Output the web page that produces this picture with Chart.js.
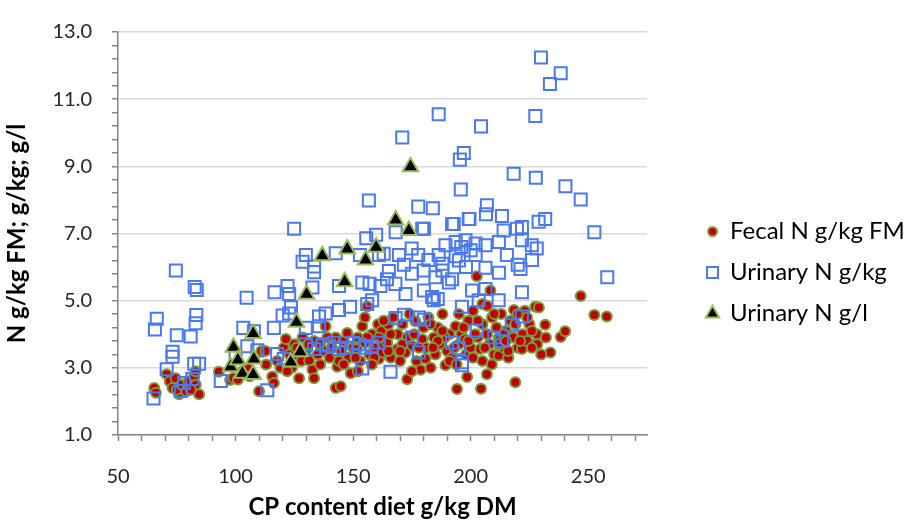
<!DOCTYPE html>
<html>
<head>
<meta charset="utf-8">
<script src="https://cdn.jsdelivr.net/npm/chart.js@4.4.1/dist/chart.umd.min.js"></script>
<style>
  body { margin: 0; background: #fff; }
  #wrap { width: 906px; height: 523px; }
</style>
</head>
<body>
<div id="wrap"><canvas id="nChart" width="906" height="523"></canvas></div>
<script>
// Series labels
const seriesNames = ['Fecal N g/kg FM', 'Urinary N g/kg', 'Urinary N g/l'];

// Fecal N g/kg FM  [CP g/kg DM, N]
const fecalPoints = [
  [65.4,2.40],[66.1,2.26],[70.7,2.81],[72,2.60],[74.5,2.69],[73.2,2.40],[76,2.21],[75,2.35],[77,2.50],[79,2.30],
  [80,2.60],[82.4,2.75],[83.1,2.50],[84.5,2.21],[81,2.35],[83,2.90],[92.9,2.88],[97.7,2.64],[99,2.70],[101,2.65],
  [103,2.90],[105,3.00],[106,2.75],[110,2.30],[111,3.50],[112.7,3.50],[113,3.10],[115.6,2.74],[116.3,2.55],[117.7,3.20],
  [119.1,3.00],[120.5,3.60],[121.4,3.86],[123,3.40],[124,3.00],[125,3.70],[126,3.30],[127,2.69],[128,3.20],[128.5,3.90],
  [130,3.50],[131.3,3.22],[132.7,2.94],[133.4,2.69],[133.4,3.80],[135,3.40],[136,3.70],[138,3.50],[138.3,4.24],[140,3.30],
  [141,3.60],[142.6,3.90],[143.3,3.03],[142.6,2.40],[144.7,2.45],[145,3.50],[146,3.80],[147.5,4.04],[148,3.30],[149,2.84],
  [150,3.60],[151.7,3.56],[152,3.90],[153,3.20],[153.9,4.24],[155,3.75],[155,4.50],[156,4.83],[157,3.40],[158,4.00],
  [159,3.60],[160.6,4.30],[161,3.27],[162,4.10],[162.4,3.46],[163,3.70],[164.5,3.75],[164.9,4.28],[166,3.30],[167,4.50],
  [168.8,3.56],[169,4.00],[170,3.20],[171,4.30],[172.3,3.46],[173,2.66],[173,3.90],[174,4.60],[175.1,3.66],[176.5,4.39],
  [177,3.20],[178.7,2.94],[179.4,3.85],[180,4.20],[180.8,3.27],[181,3.60],[182,4.50],[183,3.00],[184.3,3.90],[185,3.40],
  [186,4.20],[187,3.70],[188,4.60],[189.3,3.08],[190,3.50],[191,4.00],[192,3.30],[193.6,4.24],[194.2,2.37],[195,3.70],
  [195,4.60],[196,4.00],[197.5,3.85],[198,3.40],[198.5,2.73],[199,4.40],[200,3.60],[201,4.70],[202.6,5.73],[203,3.90],
  [204.1,3.56],[204.4,2.38],[205,4.30],[205,3.20],[206.9,2.81],[207,4.00],[208.4,5.30],[208,3.70],[209,4.50],[210,3.40],
  [211,4.20],[211.9,3.37],[212,3.90],[213,4.60],[214,3.60],[215,4.10],[216,3.30],[217,4.40],[218.2,3.90],[218.4,4.72],
  [219,2.57],[220,3.60],[221.8,3.56],[222,4.00],[223,4.70],[224,3.80],[225,4.30],[227.5,4.82],[227.5,3.70],[228.2,4.00],
  [228.3,3.70],[229,4.80],[231.7,4.28],[233.9,3.46],[230,3.40],[238.3,3.92],[240.2,4.09],[246.8,5.14],[252.6,4.57],[257.9,4.53],
  [144,3.20],[151,3.30],[156,3.90],[159,3.30],[166,4.00],[171,3.70],[176,4.00],[183,4.30],[189,3.90],[193,3.60],
  [197,4.20],[201,3.30],[206,3.60],[210,4.60],[214,4.00],[219,4.30],[221,3.80],[226,3.60],[205,4.90],[207,4.85],
  [161,3.90],[165,3.50],[178,3.60],[186,3.80],[191,3.20],[199,3.80],[202,4.00],[212,3.70],[216,3.50],[224,4.50],
  [122,2.90],[126,3.60],[131,3.70],[136,3.10],[139,3.90],[146,3.10],[152,2.90],[158,3.10],[163,4.40],[170,3.50],
  [175,2.90],[184,3.60],[188,4.10],[194,3.10],[203,4.40],[209,3.10],[215,3.80],[220,4.60],[226,4.10],[232,3.90]
];

// Urinary N g/kg
const urinaryKgPoints = [
  [65.1,2.09],[65.7,4.14],[66.5,4.46],[70.7,2.96],[73.2,3.48],[73.2,3.33],[74.6,5.90],[75,3.97],[76.7,2.31],[78.1,2.55],
  [80.9,3.93],[81.6,2.67],[82.4,3.12],[84.5,3.12],[82.6,5.41],[83.5,5.32],[83.3,4.57],[83,4.33],[93.7,2.61],[100,3.32],
  [103.3,4.19],[104.7,5.09],[105,3.64],[107.8,4.09],[109.3,3.52],[113.5,2.33],[116.3,4.19],[116.6,5.25],[117.7,3.41],[120.5,3.26],
  [120,4.56],[123.6,4.80],[122.1,5.44],[122.8,5.20],[124.9,7.14],[128.5,6.16],[129.9,6.36],[133.4,6.02],[133.4,5.85],[142.6,6.41],
  [152.9,6.36],[155.6,6.86],[159.8,6.96],[161,6.36],[163,6.40],[168.1,7.04],[169.5,6.36],[174.9,6.55],[177.7,6.36],[179.4,7.14],
  [182,6.21],[171.6,6.07],[165.2,5.88],[153.9,5.54],[144,5.44],[132.7,5.39],[157,5.50],[161.6,5.44],[164.4,5.64],[168,5.50],
  [172.3,5.20],[180.1,5.30],[158.1,5.01],[156,4.90],[148.7,4.82],[144,4.72],[138.3,4.62],[135.5,4.53],[135.5,4.24],[129.9,4.19],
  [122.8,4.62],[133.4,3.56],[137,3.70],[139.8,3.66],[144,3.56],[152.5,3.70],[155,3.60],[161,3.75],[168.1,4.48],[171.6,4.58],
  [175.1,3.90],[178,3.46],[153.9,2.98],[165.9,2.88],[156.7,7.98],[177.7,7.80],[170.9,9.86],[130,3.70],[142,3.75],[147,3.60],
  [150,3.75],[158,3.65],[180.1,7.14],[192.1,7.28],[199.2,7.43],[214,7.09],[219.7,7.14],[221.8,7.19],[221.8,6.80],[226,6.65],
  [228.1,6.55],[189.3,6.65],[193.6,6.75],[197.8,6.80],[202.1,6.70],[206.3,6.65],[212,6.75],[186.4,6.36],[193.6,6.32],[202.1,6.36],
  [215.4,6.36],[220,6.07],[226.1,6.21],[206.3,5.98],[212,5.83],[221.2,5.94],[192.1,5.64],[190.7,5.54],[206.3,5.35],[221.8,5.25],
  [200.6,5.30],[183.6,5.11],[184.3,5.01],[186,5.05],[196.3,4.82],[203.4,5.01],[211.9,5.01],[202.6,4.11],[213.3,3.80],[217.5,4.28],
  [221.8,4.53],[180.1,4.43],[178,4.50],[192.1,3.75],[195,3.58],[196.3,3.17],[196.3,3.08],[188,6.10],[195,6.20],[198,6.00],
  [200,6.50],[196,6.60],[175,5.80],[180,5.90],[185,5.70],[188,5.90],[229.9,12.24],[238.3,11.77],[233.7,11.45],[186.4,10.55],
  [227.5,10.50],[204.4,10.19],[197.1,9.40],[195.4,9.20],[218.3,8.78],[227.7,8.66],[240.3,8.41],[195.8,8.31],[246.8,8.01],[183.9,7.75],
  [206.9,7.84],[206.5,7.57],[213.3,7.52],[192.8,7.28],[199.5,7.43],[228.9,7.35],[231.7,7.43],[252.6,7.04],[258.1,5.70],[210,3.90]
];

// Urinary N g/l
const urinaryLPoints = [
  [97.9,3.03],[99.1,3.61],[101,3.23],[102.9,2.84],[107.5,2.80],[107.8,3.26],[107.5,4.02],[123.5,3.17],[125.9,4.36],[127.5,3.48],
  [130.2,5.19],[136.9,6.34],[146.4,5.56],[147.5,6.54],[155.3,6.21],[159.8,6.59],[168.1,7.40],[173.7,7.09],[174.4,8.99]
];

const toXY = pts => pts.map(p => ({ x: p[0], y: p[1] }));

const fontFamily = 'Lato, "Open Sans", sans-serif';
const tickFont = { family: fontFamily, size: 20 };
const titleFont = { family: fontFamily, size: 24, weight: 'bold' };
const axisGray = '#868686';
const fecalFill = '#c00000';
const fecalEdge = '#7a9a3c';

// legend: longest label about 176px wide, legend box 216px, 43px gap after the plot
const mctx = document.createElement('canvas').getContext('2d');
mctx.font = '24px Lato';
const w24 = mctx.measureText(seriesNames[0]).width;
const legendSize = Math.round(24 * 176 / w24 * 2) / 2;
const legendPad = 41 - legendSize;
const legendBox = 11;
const legendWidth = 216;
const gapWidth = 43;

// small round legend marker (the built-in one scales with the box and gets too big)
const dotImg = document.createElement('canvas');
dotImg.width = 12; dotImg.height = 12;
const dctx = dotImg.getContext('2d');
dctx.beginPath();
dctx.arc(6, 6, 4.5, 0, Math.PI * 2);
dctx.fillStyle = fecalFill;
dctx.fill();
dctx.lineWidth = 2;
dctx.strokeStyle = fecalEdge;
dctx.stroke();

const ctx = document.getElementById('nChart').getContext('2d');
const chart = new Chart(ctx, {
  type: 'scatter',
  data: {
    datasets: [
      {
        label: seriesNames[0],
        data: toXY(fecalPoints),
        pointStyle: 'circle',
        pointRadius: 5,
        backgroundColor: fecalFill,
        borderColor: fecalEdge,
        borderWidth: 2,
        order: 3
      },
      {
        label: seriesNames[1],
        data: toXY(urinaryKgPoints),
        pointStyle: 'rect',
        pointRadius: 8.5,
        backgroundColor: 'rgba(0,0,0,0)',
        borderColor: '#4a78f2',
        borderWidth: 2,
        order: 2
      },
      {
        label: seriesNames[2],
        data: toXY(urinaryLPoints),
        pointStyle: 'triangle',
        pointRadius: 9,
        backgroundColor: '#000000',
        borderColor: '#9bbb59',
        borderWidth: 2,
        order: 1
      }
    ]
  },
  options: {
    responsive: false,
    animation: false,
    devicePixelRatio: 1,
    layout: { padding: { top: 22, right: 0, bottom: 0, left: 0 } },
    plugins: {
      tooltip: { enabled: false },
      legend: {
        position: 'right',
        maxWidth: legendWidth,
        labels: {
          usePointStyle: true,
          boxHeight: legendBox,
          boxWidth: legendBox,
          padding: legendPad,
          color: '#000',
          font: { family: fontFamily, size: legendSize },
          sort: (a, b) => a.datasetIndex - b.datasetIndex,
          generateLabels: c => {
            const items = Chart.defaults.plugins.legend.labels.generateLabels(c);
            items.forEach(it => { if (it.datasetIndex === 0) it.pointStyle = dotImg; });
            return items;
          }
        }
      }
    },
    scales: {
      x: {
        type: 'linear',
        min: 50,
        max: 275,
        afterFit: s => { s.height = 88; },
        border: { color: axisGray, width: 1.5 },
        grid: { drawOnChartArea: false, drawTicks: true, tickLength: 6, tickColor: axisGray, tickWidth: 1.5 },
        ticks: {
          stepSize: 10,
          includeBounds: false,
          autoSkip: false,
          maxRotation: 0,
          padding: 24,
          color: '#262626',
          font: tickFont,
          callback: v => (v % 50 === 0 ? String(v) : '')
        },
        title: { display: true, text: 'CP content diet g/kg DM', color: '#000', font: titleFont, padding: { top: 4, bottom: 1 } }
      },
      y: {
        type: 'linear',
        min: 1,
        max: 13,
        afterFit: s => { s.width = 118; },
        border: { color: axisGray, width: 1.5 },
        grid: {
          drawTicks: true,
          tickLength: 6,
          tickColor: axisGray,
          tickWidth: 1.5,
          lineWidth: 1.5,
          color: c => (c.index % 5 === 0 ? '#d9d9d9' : 'rgba(0,0,0,0)')
        },
        ticks: {
          stepSize: 0.4,
          autoSkip: false,
          padding: 20,
          color: '#262626',
          font: tickFont,
          callback: (v, i) => (i % 5 === 0 ? v.toFixed(1) : '')
        },
        title: { display: true, text: 'N g/kg FM; g/kg; g/l', color: '#000', font: titleFont, padding: { top: 3, bottom: 4 } }
      },
      gap: {
        type: 'linear',
        position: 'right',
        display: true,
        afterFit: s => { s.width = gapWidth; },
        border: { display: false },
        grid: { display: false },
        ticks: { display: false }
      }
    }
  }
});
</script>
</body>
</html>
